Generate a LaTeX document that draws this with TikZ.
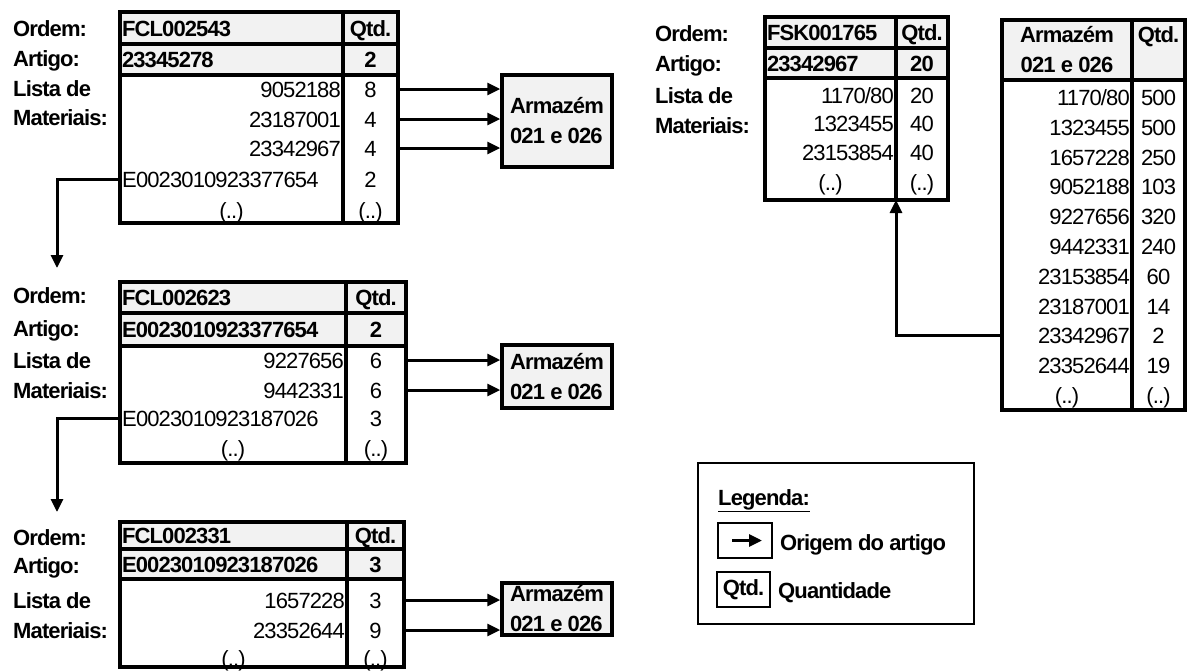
\documentclass[tikz,border=0pt]{standalone}
\usepackage{fontspec}
\setmainfont{Liberation Sans}[LetterSpace=-4]
\usetikzlibrary{arrows.meta, positioning}
\newcommand{\diagfont}{\fontsize{22}{30}\selectfont}

\begin{document}
\begin{tikzpicture}[
    x=1pt, y=-1pt,
    font=\diagfont,
    lbl/.style={anchor=west, font=\diagfont\bfseries, inner sep=0pt, text height=16pt, text depth=0pt},
    hcell/.style={rectangle, draw, line width=3.5pt, fill=gray!10, outer sep=0pt, inner xsep=2pt, inner ysep=0pt, text width=#1, align=left, font=\diagfont\bfseries, text height=16pt, text depth=0pt},
    qcell/.style={hcell=#1, align=center},
    lcell/.style={rectangle, draw, line width=3.5pt, outer sep=0pt, inner sep=0pt, minimum width=#1},
    cellt/.style={inner sep=0pt, text height=16pt, text depth=0pt},
    num/.style={cellt, anchor=east},
    code/.style={cellt, anchor=west},
    store/.style={rectangle, draw, line width=3.5pt, fill=gray!10, inner xsep=3pt, inner ysep=0pt, align=left, font=\diagfont\bfseries},
    shead/.style={rectangle, draw, line width=3.5pt, fill=gray!10, outer sep=0pt, inner sep=0pt, align=center, font=\diagfont\bfseries},
    keybox/.style={rectangle, draw, line width=2pt, minimum width=54pt, minimum height=35pt, inner sep=0pt, font=\diagfont\bfseries},
    arr/.style={-{Triangle[length=13pt, width=12pt]}, line width=3pt},
  ]
    \useasboundingbox (0,0) rectangle (1187,670);

    % ordem FCL002543
    \node[lbl] (ordlbl1) at (13,28) {Ordem:};
    \node[lbl] (artlbl1) at (13,58) {Artigo:};
    \node[lbl] (lstlbl1) at (13,88) {Lista de};
    \node[lbl] (matlbl1) at (13,117) {Materiais:};
    \node[hcell=219pt, minimum height=32pt, anchor=north west] (ord1) at (120,12) {FCL002543};
    \node[qcell=51pt, minimum height=32pt, right=0pt of ord1] (ordq1) {Qtd.};
    \node[hcell=219pt, minimum height=31pt, below=0pt of ord1] (art1) {23345278};
    \node[qcell=51pt, minimum height=31pt, right=0pt of art1] (artq1) {2};
    \node[lcell=223pt, minimum height=148pt, below=0pt of art1] (lst1) {};
    \node[lcell=55pt, minimum height=148pt, right=0pt of lst1] (lstq1) {};
    \node[num] (it1a) at (341,89) {9052188};
    \node[num] (it1b) at (341,119) {23187001};
    \node[num] (it1c) at (341,148) {23342967};
    \node[code] (it1d) at (122,179) {E0023010923377654};
    \node[cellt] (it1e) at (231.5,210) {(..)};
    \node[cellt] (q1a) at (370.5,89) {8};
    \node[cellt] (q1b) at (370.5,119) {4};
    \node[cellt] (q1c) at (370.5,148) {4};
    \node[cellt] (q1d) at (370.5,179) {2};
    \node[cellt] (q1e) at (370.5,210) {(..)};
    \node[store, minimum width=110pt, minimum height=92pt] (store1) at (557,121) {Armazém\\021 e 026};
    \draw[arr] (lstq1.east |- q1a) -- (store1.west |- q1a);
    \draw[arr] (lstq1.east |- q1b) -- (store1.west |- q1b);
    \draw[arr] (lstq1.east |- q1c) -- (store1.west |- q1c);

    % ordem FCL002623
    \node[lbl] (ordlbl2) at (13,295) {Ordem:};
    \node[lbl] (artlbl2) at (13,328) {Artigo:};
    \node[lbl] (lstlbl2) at (13,360) {Lista de};
    \node[lbl] (matlbl2) at (13,390) {Materiais:};
    \node[hcell=222pt, minimum height=31pt, anchor=north west] (ord2) at (120,282) {FCL002623};
    \node[qcell=56pt, minimum height=31pt, right=0pt of ord2] (ordq2) {Qtd.};
    \node[hcell=222pt, minimum height=33pt, below=0pt of ord2] (art2) {E0023010923377654};
    \node[qcell=56pt, minimum height=33pt, right=0pt of art2] (artq2) {2};
    \node[lcell=226pt, minimum height=117pt, below=0pt of art2] (lst2) {};
    \node[lcell=60pt, minimum height=117pt, right=0pt of lst2] (lstq2) {};
    \node[num] (it2a) at (344,360) {9227656};
    \node[num] (it2b) at (344,390) {9442331};
    \node[code] (it2c) at (122,418) {E0023010923187026};
    \node[cellt] (it2d) at (233,448) {(..)};
    \node[cellt] (q2a) at (376,360) {6};
    \node[cellt] (q2b) at (376,390) {6};
    \node[cellt] (q2c) at (376,418) {3};
    \node[cellt] (q2d) at (376,448) {(..)};
    \node[store, minimum width=110pt, minimum height=63pt] (store2) at (557,376.5) {Armazém\\021 e 026};
    \draw[arr] (lstq2.east |- q2a) -- (store2.west |- q2a);
    \draw[arr] (lstq2.east |- q2b) -- (store2.west |- q2b);

    % ordem FCL002331
    \node[lbl] (ordlbl3) at (13,537) {Ordem:};
    \node[lbl] (artlbl3) at (13,565) {Artigo:};
    \node[lbl] (lstlbl3) at (13,600) {Lista de};
    \node[lbl] (matlbl3) at (13,630) {Materiais:};
    \node[hcell=223pt, minimum height=27pt, anchor=north west] (ord3) at (120,522) {FCL002331};
    \node[qcell=53pt, minimum height=27pt, right=0pt of ord3] (ordq3) {Qtd.};
    \node[hcell=223pt, minimum height=30pt, below=0pt of ord3] (art3) {E0023010923187026};
    \node[qcell=53pt, minimum height=30pt, right=0pt of art3] (artq3) {3};
    \node[lcell=227pt, minimum height=88pt, below=0pt of art3] (lst3) {};
    \node[lcell=57pt, minimum height=88pt, right=0pt of lst3] (lstq3) {};
    \node[num] (it3a) at (345,600) {1657228};
    \node[num] (it3b) at (345,630) {23352644};
    \node[cellt] (it3c) at (233.5,658) {(..)};
    \node[cellt] (q3a) at (375.5,600) {3};
    \node[cellt] (q3b) at (375.5,630) {9};
    \node[cellt] (q3c) at (375.5,658) {(..)};
    \node[store, minimum width=110pt, minimum height=52pt] (store3) at (557,609) {Armazém\\021 e 026};
    \draw[arr] (lstq3.east |- q3a) -- (store3.west |- q3a);
    \draw[arr] (lstq3.east |- q3b) -- (store3.west |- q3b);

    % origem dos artigos
    \coordinate (down1) at (57,268);
    \coordinate (down2) at (57,512);
    \draw[arr] (lst1.west |- it1d) -| (down1);
    \draw[arr] (lst2.west |- it2c) -| (down2);

    % ordem FSK001765
    \node[lbl] (ordlbl4) at (655,33) {Ordem:};
    \node[lbl] (artlbl4) at (655,63) {Artigo:};
    \node[lbl] (lstlbl4) at (655,95) {Lista de};
    \node[lbl] (matlbl4) at (655,125) {Materiais:};
    \node[hcell=127pt, minimum height=31pt, anchor=north west] (ord4) at (765,17) {FSK001765};
    \node[qcell=48pt, minimum height=31pt, right=0pt of ord4] (ordq4) {Qtd.};
    \node[hcell=127pt, minimum height=30pt, below=0pt of ord4] (art4) {23342967};
    \node[qcell=48pt, minimum height=30pt, right=0pt of art4] (artq4) {20};
    \node[lcell=131pt, minimum height=122pt, below=0pt of art4] (lst4) {};
    \node[lcell=52pt, minimum height=122pt, right=0pt of lst4] (lstq4) {};
    \node[num] (it4a) at (894,95) {1170/80};
    \node[num] (it4b) at (894,123) {1323455};
    \node[num] (it4c) at (894,152) {23153854};
    \node[cellt] (it4d) at (830.5,182) {(..)};
    \node[cellt] (q4a) at (922,95) {20};
    \node[cellt] (q4b) at (922,123) {40};
    \node[cellt] (q4c) at (922,152) {40};
    \node[cellt] (q4d) at (922,182) {(..)};

    % stock armazem
    \node[shead, minimum width=130pt, minimum height=60pt, anchor=north west] (stk) at (1002,20) {Armazém\\021 e 026};
    \node[shead, minimum width=53pt, minimum height=60pt, right=0pt of stk] (stkq) {Qtd.\\~};
    \node[lcell=130pt, minimum height=330pt, below=0pt of stk] (stkl) {};
    \node[lcell=53pt, minimum height=330pt, right=0pt of stkl] (stklq) {};
    \node[num] (st1) at (1130,97) {1170/80};
    \node[num] (st2) at (1130,127) {1323455};
    \node[num] (st3) at (1130,157) {1657228};
    \node[num] (st4) at (1130,186) {9052188};
    \node[num] (st5) at (1130,216) {9227656};
    \node[num] (st6) at (1130,246) {9442331};
    \node[num] (st7) at (1130,276) {23153854};
    \node[num] (st8) at (1130,306) {23187001};
    \node[num] (st9) at (1130,335) {23342967};
    \node[num] (st10) at (1130,365) {23352644};
    \node[cellt] (st11) at (1067,395) {(..)};
    \node[cellt] (sq1) at (1158.5,97) {500};
    \node[cellt] (sq2) at (1158.5,127) {500};
    \node[cellt] (sq3) at (1158.5,157) {250};
    \node[cellt] (sq4) at (1158.5,186) {103};
    \node[cellt] (sq5) at (1158.5,216) {320};
    \node[cellt] (sq6) at (1158.5,246) {240};
    \node[cellt] (sq7) at (1158.5,276) {60};
    \node[cellt] (sq8) at (1158.5,306) {14};
    \node[cellt] (sq9) at (1158.5,335) {2};
    \node[cellt] (sq10) at (1158.5,365) {19};
    \node[cellt] (sq11) at (1158.5,395) {(..)};
    \draw[arr] (stkl.west |- st9) -| (lst4.south east);

    % legenda
    \node[draw, line width=1.5pt, minimum width=276pt, minimum height=161pt, inner sep=0pt, anchor=north west] (leg) at (697,462) {};
    \node[lbl] (legtit) at (718,497) {\underline{Legenda:}};
    \node[keybox] (keyarr) at (745,540.5) {};
    \draw[arr] ([xshift=-13pt]keyarr.center) -- ([xshift=17pt]keyarr.center);
    \node[lbl] (keyarrtxt) at (780,542) {Origem do artigo};
    \node[keybox, minimum width=53pt] (keyq) at (743.5,589.5) {Qtd.};
    \node[lbl] (keyqtxt) at (778,590) {Quantidade};
  \end{tikzpicture}
\end{document}
